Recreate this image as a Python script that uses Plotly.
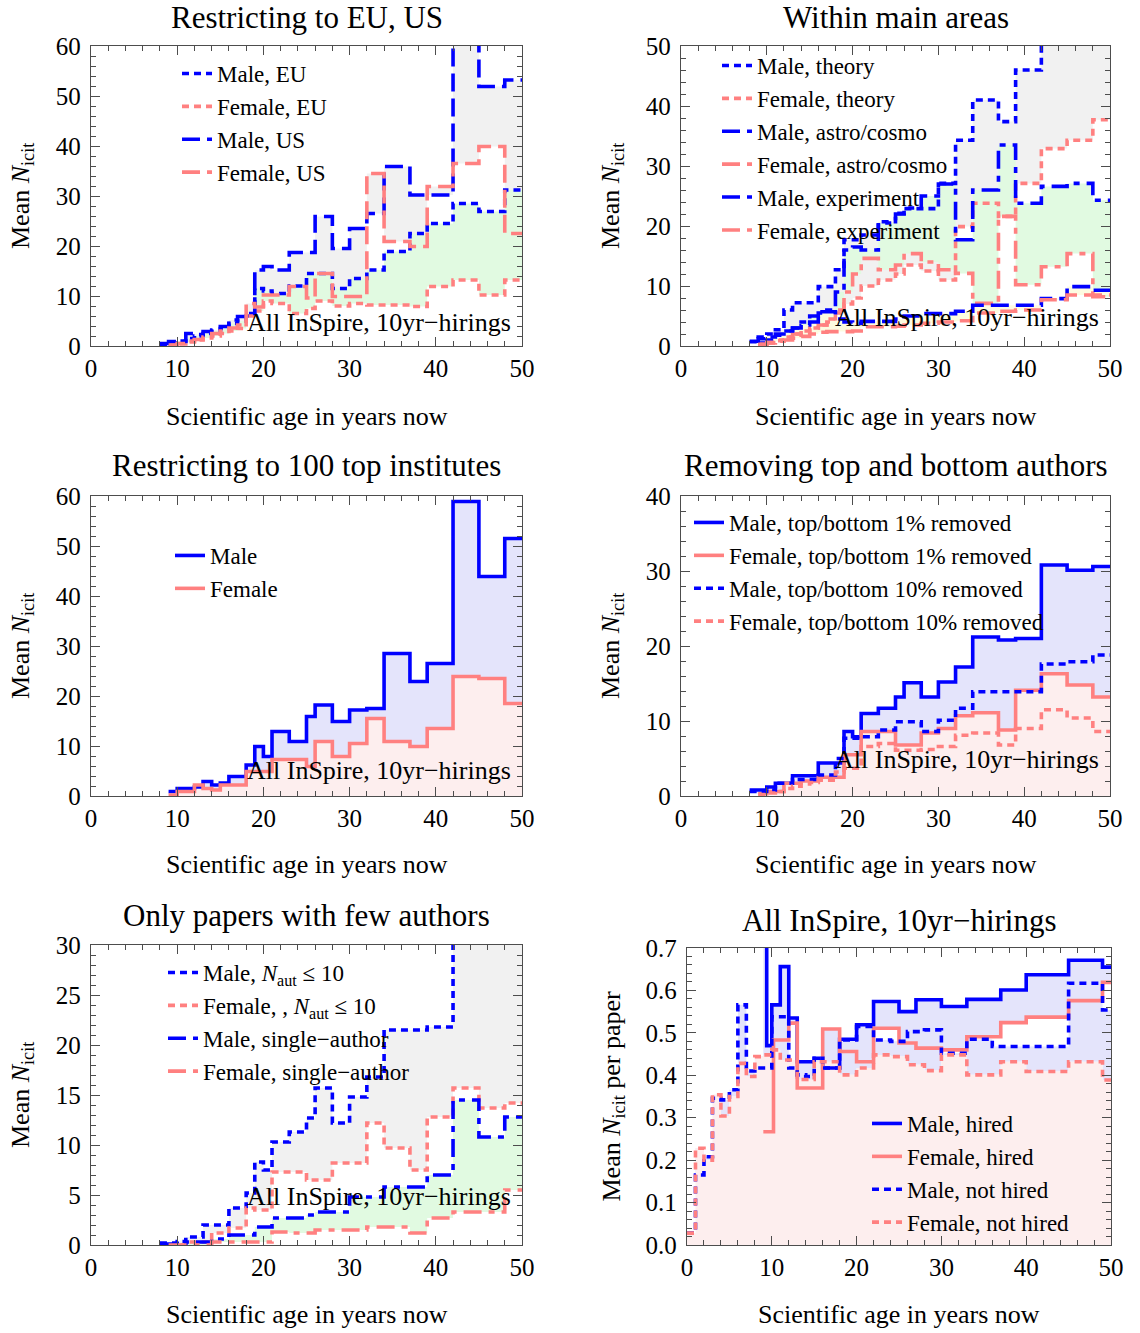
import plotly.graph_objects as go

# ---------------- DATA ----------------
# common bin edges (scientific age, years) for panels 1-5
AGE_EDGES = [8, 9, 10, 11, 12, 13, 14, 15, 16, 17, 18, 19, 20, 21, 23, 25, 26, 28, 30, 32, 34, 37, 39, 42, 45, 48, 50]

# Panel 1: Restricting to EU, US
male_eu = [0.3, 0.6, 1.0, 1.5, 2.0, 2.5, 3.0, 3.5, 4.5, 5.0, 6.5, 11.5, 11.0, 10.5, 12.0, 14.5, 14.5, 11.5, 13.5, 15.2, 18.9, 22.5, 24.5, 28.5, 26.9, 31.2]
female_eu = [None, 0.2, 0.4, 0.8, 1.2, 1.6, 2.0, 2.5, 3.0, 3.5, 6.0, 7.0, 9.0, 8.5, 6.5, 7.5, 9.0, 8.0, 8.5, 8.2, 8.2, 7.9, 11.9, 13.2, 10.2, 13.2]
male_us = [0.5, 0.9, 0.9, 2.5, 2.3, 2.9, 3.2, 3.9, 5.2, 5.9, 6.0, 15.2, 15.9, 15.2, 18.7, 18.7, 25.9, 19.5, 23.5, 26.5, 35.9, 30.2, 30.2, 64.0, 51.9, 53.2]
female_us = [None, 0.2, 0.5, 1.0, 1.3, 1.8, 2.5, 3.0, 3.6, 4.2, 8.5, 7.8, 10.2, 10.2, 11.9, 9.6, 14.5, 9.9, 9.9, 34.5, 20.9, 19.9, 31.9, 36.5, 39.9, 22.5]

# Panel 2: Within main areas
male_theory = [0.7, 1.5, 2.0, 2.7, 6.0, 7.2, 7.2, 7.2, 9.9, 9.9, 12.7, 17.7, 17.7, 18.5, 20.7, 22.1, 22.9, 22.9, 27.1, 34.3, 41.0, 37.4, 46.0, 55.0, 55.0, 55.0]
female_theory = [None, 0.2, 0.5, 0.9, 1.5, 2.0, 2.5, 3.0, 3.5, 4.5, 5.5, 7.0, 8.0, 10.0, 11.0, 12.0, 13.5, 12.5, 11.0, 19.9, 23.8, 21.6, 27.1, 32.9, 34.3, 37.7]
male_astro = [None, 0.5, 1.0, 1.8, 2.5, 3.0, 4.0, 5.0, 5.5, 6.0, 9.0, 16.0, 16.5, 16.0, 20.5, 22.0, 23.0, 25.0, 27.0, 17.7, 26.0, 33.5, 23.8, 26.6, 27.1, 24.3]
female_astro = [None, 0.3, 0.6, 1.0, 1.5, 2.0, 2.5, 3.0, 3.5, 4.0, 6.0, 9.0, 12.0, 14.6, 12.7, 13.5, 15.4, 14.0, 12.7, 12.1, 7.1, 21.6, 10.2, 13.2, 15.4, 8.2]
male_exp = [0.8, 1.2, 1.5, 2.0, 2.5, 3.0, 3.5, 4.0, 5.7, 5.7, 4.5, 4.0, 3.8, 4.1, 4.1, 4.5, 5.0, 5.4, 5.4, 5.8, 6.8, 6.8, 6.8, 7.9, 9.9, 9.3]
female_exp = [None, 0.3, 0.5, 0.8, 1.0, 1.3, 1.6, 2.0, 2.3, 2.4, 2.4, 2.4, 2.5, 3.2, 3.2, 3.3, 3.5, 3.8, 4.0, 4.2, 5.5, 5.8, 6.0, 7.7, 8.5, 8.5]

# Panel 3: Restricting to 100 top institutes
male_top = [None, 0.9, 1.5, 1.5, 1.8, 2.9, 2.2, 2.6, 3.9, 3.9, 6.2, 9.9, 7.9, 12.9, 10.9, 15.9, 18.2, 14.9, 17.2, 17.5, 28.5, 22.9, 26.5, 58.9, 43.9, 51.5]
female_top = [None, 0.2, 0.9, 0.9, 2.2, 1.5, 1.2, 2.2, 2.2, 2.2, 4.9, 4.9, 4.9, 7.3, 7.3, 5.9, 10.9, 7.9, 10.5, 15.5, 10.9, 9.9, 13.5, 23.9, 23.5, 18.5]

# Panel 4: Removing top and bottom authors
male_1pc = [0.8, 0.8, 1.2, 1.7, 1.7, 2.7, 2.7, 2.7, 4.4, 4.4, 4.4, 8.6, 7.9, 11.0, 11.7, 13.2, 15.1, 13.2, 15.2, 17.2, 21.2, 20.8, 21.0, 30.8, 30.1, 30.6]
female_1pc = [None, 0.3, 0.6, 0.6, 1.7, 1.7, 2.0, 2.0, 2.5, 2.5, 2.5, 5.5, 5.5, 8.6, 8.6, 6.8, 6.8, 8.4, 9.0, 10.7, 11.1, 8.8, 14.1, 16.3, 14.8, 13.2]
male_10pc = [0.6, 0.6, 0.8, 1.7, 1.7, 2.2, 2.2, 2.2, 2.8, 2.8, 5.0, 7.7, 7.7, 7.9, 8.8, 9.9, 9.9, 8.6, 10.1, 11.7, 13.9, 13.9, 13.9, 17.6, 17.9, 18.8]
female_10pc = [None, 0.2, 0.4, 0.6, 1.0, 1.3, 1.6, 1.8, 2.1, 2.1, 3.2, 3.7, 3.7, 6.6, 7.0, 6.1, 6.1, 6.2, 6.6, 8.1, 8.4, 6.8, 9.0, 11.5, 10.4, 8.6]

# Panel 5: Only papers with few authors
male_naut = [0.2, 0.2, 0.35, 0.8, 0.8, 2.0, 2.0, 2.0, 3.7, 3.7, 5.2, 8.3, 7.5, 10.3, 11.3, 12.7, 15.7, 12.2, 14.8, 16.8, 21.5, 21.5, 21.8, 32.0, 32.0, 32.0]
female_naut = [None, 0.0, 0.0, 0.3, 0.3, 0.3, 1.2, 1.2, 1.7, 1.7, 3.7, 3.5, 3.5, 7.3, 7.3, 6.5, 6.5, 8.2, 8.2, 12.2, 9.7, 7.5, 12.8, 15.7, 13.7, 14.2]
male_single = [0.1, 0.1, 0.1, 0.3, 0.3, 0.3, 0.6, 0.6, 1.0, 1.0, 1.0, 1.8, 1.8, 2.7, 2.7, 3.0, 3.3, 3.3, 4.8, 4.8, 5.8, 5.8, 7.0, 14.5, 10.8, 12.8]
female_single = [None, 0.0, 0.0, 0.0, 0.0, 0.0, 0.3, 0.3, 0.3, 0.3, 0.3, 0.3, 0.3, 1.3, 1.2, 1.2, 1.5, 1.5, 1.5, 1.8, 1.8, 1.2, 2.7, 3.3, 3.3, 5.5]

# Panel 6: All InSpire, 10yr-hirings (mean N_icit per paper)
male_hired_age = [9, 9.4, 10, 11, 12, 13, 15, 16, 18, 20, 22, 25, 27, 30, 33, 37, 40, 45, 49, 50]
male_hired = [0.80, 0.47, 0.566, 0.656, 0.535, 0.432, 0.44, 0.417, 0.485, 0.519, 0.574, 0.55, 0.578, 0.562, 0.579, 0.601, 0.637, 0.671, 0.655]
female_hired_age = [9, 10.2, 12, 13, 16, 18, 20, 22, 25, 27, 30, 33, 37, 40, 45, 49, 50]
female_hired = [0.267, 0.483, 0.523, 0.37, 0.509, 0.456, 0.432, 0.511, 0.476, 0.464, 0.46, 0.491, 0.524, 0.537, 0.576, 0.619]
male_nothired_age = [0, 1, 2, 3, 4, 5, 6, 7, 8, 9, 10, 12, 13, 14, 15, 16, 18, 20, 22, 24, 26, 28, 30, 32, 33, 36, 40, 45, 49, 50]
male_nothired = [0.028, 0.165, 0.208, 0.346, 0.342, 0.366, 0.566, 0.41, 0.417, 0.417, 0.538, 0.417, 0.401, 0.397, 0.44, 0.417, 0.483, 0.515, 0.483, 0.48, 0.503, 0.507, 0.452, 0.452, 0.485, 0.468, 0.468, 0.617, 0.554]
female_nothired_age = [0, 1, 2, 3, 4, 5, 6, 7, 8, 9, 10, 11, 13, 15, 16, 18, 20, 22, 24, 26, 28, 30, 32, 33, 36, 37, 40, 45, 49, 50]
female_nothired = [0.028, 0.228, 0.2, 0.354, 0.304, 0.35, 0.428, 0.397, 0.444, 0.448, 0.46, 0.436, 0.39, 0.432, 0.432, 0.401, 0.417, 0.448, 0.444, 0.425, 0.411, 0.448, 0.448, 0.401, 0.401, 0.432, 0.409, 0.432, 0.389]

X_TICKS = [0, 10, 20, 30, 40, 50]

# ---------------- STYLE ----------------
W, H = 1140, 1333
SERIF = "Liberation Serif"
BLUE = "#0000ff"
PINK = "#ff8080"
GRAYF = "#f1f1f1"
GREENF = "#e1fae1"
YELLOWF = "#fdfbe1"
LAVF = "#e4e4fb"
PINKF = "#fdeeee"
LW = 3.6
DOT = "7px,5px"
DASH = "18px,7px"
DASHDOT = "18px,7px,6px,7px"


def steps(edges, vals):
    xs, ys = [], []
    for i, v in enumerate(vals):
        if v is None:
            continue
        xs.append(edges[i])
        ys.append(v)
    xs.append(edges[len(vals)])
    ys.append(ys[-1])
    return xs, ys


fig = go.Figure()


def ax(k):
    return ("x" if k == 1 else f"x{k}"), ("y" if k == 1 else f"y{k}")


def add_fill(k, edges_a, a, edges_b, b, color):
    xa, ya = ax(k)
    x1, y1 = steps(edges_a, a)
    x2, y2 = steps(edges_b, b)
    fig.add_trace(go.Scatter(x=x1, y=y1, mode="lines", line=dict(width=0, shape="hv"),
                             showlegend=False, hoverinfo="skip", xaxis=xa, yaxis=ya))
    fig.add_trace(go.Scatter(x=x2, y=y2, mode="lines", line=dict(width=0, shape="hv"),
                             fill="tonexty", fillcolor=color,
                             showlegend=False, hoverinfo="skip", xaxis=xa, yaxis=ya))


def add_fill_zero(k, edges, a, color):
    xa, ya = ax(k)
    x1, y1 = steps(edges, a)
    fig.add_trace(go.Scatter(x=x1, y=y1, mode="lines", line=dict(width=0, shape="hv"),
                             fill="tozeroy", fillcolor=color,
                             showlegend=False, hoverinfo="skip", xaxis=xa, yaxis=ya))


def add_line(k, edges, vals, name, color, dash):
    xa, ya = ax(k)
    x1, y1 = steps(edges, vals)
    fig.add_trace(go.Scatter(x=x1, y=y1, mode="lines", name=name,
                             line=dict(width=LW, shape="hv", color=color, dash=dash),
                             legend=("legend" if k == 1 else f"legend{k}"),
                             hoverinfo="skip", xaxis=xa, yaxis=ya))


E = AGE_EDGES
# Panel 1
add_fill(1, E, male_us, E, female_us, GRAYF)
add_fill(1, E, male_eu, E, female_eu, GREENF)
add_line(1, E, male_eu, "Male, EU", BLUE, DOT)
add_line(1, E, female_eu, "Female, EU", PINK, DOT)
add_line(1, E, male_us, "Male, US", BLUE, DASH)
add_line(1, E, female_us, "Female, US", PINK, DASH)

# Panel 2
add_fill(2, E, male_theory, E, female_theory, GRAYF)
add_fill(2, E, male_astro, E, female_astro, GREENF)
add_fill(2, E, male_exp, E, female_exp, YELLOWF)
add_line(2, E, male_theory, "Male, theory", BLUE, DOT)
add_line(2, E, female_theory, "Female, theory", PINK, DOT)
add_line(2, E, male_astro, "Male, astro/cosmo", BLUE, DASHDOT)
add_line(2, E, female_astro, "Female, astro/cosmo", PINK, DASHDOT)
add_line(2, E, male_exp, "Male, experiment", BLUE, DASH)
add_line(2, E, female_exp, "Female, experiment", PINK, DASH)

# Panel 3
add_fill(3, E, male_top, E, female_top, LAVF)
add_fill_zero(3, E, female_top, PINKF)
add_line(3, E, male_top, "Male", BLUE, "solid")
add_line(3, E, female_top, "Female", PINK, "solid")

# Panel 4
add_fill(4, E, male_1pc, E, female_1pc, LAVF)
add_fill_zero(4, E, female_1pc, PINKF)
add_line(4, E, male_1pc, "Male, top/bottom 1% removed", BLUE, "solid")
add_line(4, E, female_1pc, "Female, top/bottom 1% removed", PINK, "solid")
add_line(4, E, male_10pc, "Male, top/bottom 10% removed", BLUE, DOT)
add_line(4, E, female_10pc, "Female, top/bottom 10% removed", PINK, DOT)

# Panel 5
add_fill(5, E, male_naut, E, female_naut, GRAYF)
add_fill(5, E, male_single, E, female_single, GREENF)
add_line(5, E, male_naut, "Male, <i>N</i><sub>aut</sub> ≤ 10", BLUE, DOT)
add_line(5, E, female_naut, "Female, , <i>N</i><sub>aut</sub> ≤ 10", PINK, DOT)
add_line(5, E, male_single, "Male, single−author", BLUE, DASHDOT)
add_line(5, E, female_single, "Female, single−author", PINK, DASHDOT)

# Panel 6
add_fill(6, male_hired_age, male_hired, female_hired_age, female_hired, LAVF)
add_fill(6, male_nothired_age, male_nothired, female_nothired_age, female_nothired, LAVF)
add_fill_zero(6, female_nothired_age, female_nothired, PINKF)
add_line(6, male_hired_age, male_hired, "Male, hired", BLUE, "solid")
add_line(6, female_hired_age, female_hired, "Female, hired", PINK, "solid")
add_line(6, male_nothired_age, male_nothired, "Male, not hired", BLUE, DOT)
add_line(6, female_nothired_age, female_nothired, "Female, not hired", PINK, DOT)

# ---------------- LAYOUT ----------------
# plot areas in pixels: (left, right, top, bottom)
PANELS = {
    1: (91, 522, 46, 346),
    2: (681, 1110, 46, 346),
    3: (91, 522, 496, 796),
    4: (681, 1110, 496, 796),
    5: (91, 522, 945, 1245),
    6: (687, 1111, 948, 1245),
}
Y_RANGE = {1: (0, 60, 10, 2), 2: (0, 50, 10, 2), 3: (0, 60, 10, 2),
           4: (0, 40, 10, 2), 5: (0, 30, 5, 1), 6: (0, 0.7, 0.1, 0.02)}
FRAME = "#4d4d4d"
TICKFONT = dict(family=SERIF, size=25, color="black")

layout = dict(width=W, height=H, autosize=False,
              margin=dict(l=0, r=0, t=0, b=0, pad=0, autoexpand=False),
              paper_bgcolor="white", plot_bgcolor="white", showlegend=True,
              font=dict(family=SERIF, color="black"))
for k, (l, r, t, b) in PANELS.items():
    xk = "xaxis" if k == 1 else f"xaxis{k}"
    yk = "yaxis" if k == 1 else f"yaxis{k}"
    xa, ya = ax(k)
    y0, y1, dt, mdt = Y_RANGE[k]
    layout[xk] = dict(domain=[l / W, r / W], anchor=ya, range=[0, 50],
                      tickvals=X_TICKS, ticks="inside", ticklen=9, tickwidth=1, tickcolor=FRAME,
                      minor=dict(dtick=2, tick0=0, ticks="inside", ticklen=5, tickwidth=1, tickcolor=FRAME),
                      showline=True, linecolor=FRAME, linewidth=1.3, mirror="allticks",
                      showgrid=False, zeroline=False, tickfont=TICKFONT, fixedrange=True,
                      ticklabelstandoff=0, automargin=False)
    layout[yk] = dict(domain=[1 - b / H, 1 - t / H], anchor=xa, range=[y0, y1],
                      dtick=dt, tick0=0, ticks="inside", ticklen=9, tickwidth=1, tickcolor=FRAME,
                      minor=dict(dtick=mdt, tick0=0, ticks="inside", ticklen=5, tickwidth=1, tickcolor=FRAME),
                      showline=True, linecolor=FRAME, linewidth=1.3, mirror="allticks",
                      showgrid=False, zeroline=False, tickfont=TICKFONT, fixedrange=True,
                      tickformat=(".1f" if k == 6 else "d"), ticklabelstandoff=4, automargin=False)

LEG_POS = {1: (177, 52), 2: (717, 44), 3: (170, 534), 4: (689, 501), 5: (163, 951), 6: (867, 1102)}
for k, (lx, ty) in LEG_POS.items():
    lk = "legend" if k == 1 else f"legend{k}"
    layout[lk] = dict(x=lx / W, y=1 - ty / H, xanchor="left", yanchor="top",
                      xref="paper", yref="paper", traceorder="normal",
                      bgcolor="rgba(0,0,0,0)", borderwidth=0, tracegroupgap=0,
                      font=dict(family=SERIF, size=23, color="black"))

TITLES = {1: "Restricting to EU, US", 2: "Within main areas", 3: "Restricting to 100 top institutes",
          4: "Removing top and bottom authors", 5: "Only papers with few authors",
          6: "All InSpire, 10yr−hirings"}
TITLE_Y = {1: 17, 2: 17, 3: 466, 4: 466, 5: 915, 6: 920}
XLAB_Y = {1: 416, 2: 416, 3: 865, 4: 865, 5: 1314, 6: 1314}
YLAB_X = {1: 22, 2: 612, 3: 22, 4: 612, 5: 22, 6: 612}
NOTE_Y = {1: 322, 2: 317, 3: 771, 4: 759, 5: 1196}

ann = []
for k, (l, r, t, b) in PANELS.items():
    cx = (l + r) / 2
    ann.append(dict(text=TITLES[k], x=cx / W, y=1 - TITLE_Y[k] / H, xref="paper", yref="paper",
                    xanchor="center", yanchor="middle", showarrow=False,
                    font=dict(family=SERIF, size=31, color="black")))
    ann.append(dict(text="Scientific age in years now", x=cx / W, y=1 - XLAB_Y[k] / H,
                    xref="paper", yref="paper", xanchor="center", yanchor="middle", showarrow=False,
                    font=dict(family=SERIF, size=26, color="black")))
    ylab = "Mean <i>N</i><sub>icit</sub>" + (" per paper" if k == 6 else "")
    ann.append(dict(text=ylab, x=YLAB_X[k] / W, y=1 - ((t + b) / 2) / H, xref="paper", yref="paper",
                    xanchor="center", yanchor="middle", textangle=-90, showarrow=False,
                    font=dict(family=SERIF, size=26, color="black")))
    if k in NOTE_Y:
        ann.append(dict(text="All InSpire, 10yr−hirings", x=(r - 9) / W, y=1 - NOTE_Y[k] / H,
                        xref="paper", yref="paper", xanchor="right", yanchor="middle", showarrow=False,
                        font=dict(family=SERIF, size=26, color="black")))
layout["annotations"] = ann

fig.update_layout(**layout)
fig.write_html("out.html", config={"displayModeBar": False, "staticPlot": True},
               post_script="document.body.style.margin='0px';")
